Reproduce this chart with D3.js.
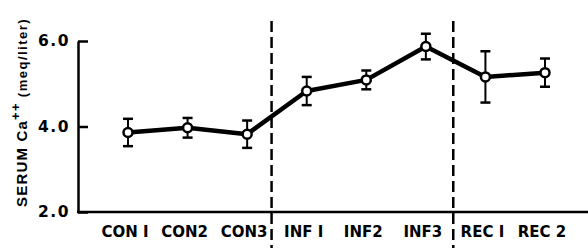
<!DOCTYPE html>
<html>
<head>
    <title>Serum Ca++</title>
    <script src="https://d3js.org/d3.v7.min.js"></script>
    <style>
        body { margin: 0; background: white; }
        text { font-family: "Liberation Sans", Arial, sans-serif; font-weight: bold; fill: black; }
    </style>
</head>
<body>
    <div id="chart"></div>

    <script>
        // data
        const groups = ["CON I", "CON2", "CON3", "INF I", "INF2", "INF3", "REC I", "REC 2"];
        const means  = [3.86, 3.97, 3.82, 4.83, 5.09, 5.87, 5.16, 5.26];
        const errs   = [0.32, 0.23, 0.32, 0.33, 0.22, 0.30, 0.60, 0.33];
        const yTicks = [2.0, 4.0, 6.0];
        // dashed dividers: after group index, fraction of a step
        const dividers = [{after: 2, frac: 0.41}, {after: 5, frac: 0.46}];

        const width = 588;
        const height = 248;
        const axisX = 78;

        const svg = d3.select("#chart")
            .append("svg")
            .attr("width", width)
            .attr("height", height);

        const x = d3.scalePoint()
            .domain(groups)
            .range([128, 545]);

        const y = d3.scaleLinear()
            .domain([2, 6])
            .range([212, 41]);

        const step = x.step();

        // y axis, ticks pointing inward
        const yAxis = svg.append("g")
            .attr("transform", `translate(${axisX},0)`)
            .call(d3.axisLeft(y).tickValues(yTicks).tickFormat(d3.format(".1f"))
                .tickSizeInner(-10).tickSizeOuter(0).tickPadding(8));
        yAxis.selectAll("path, line").attr("stroke", "black").attr("stroke-width", 2.5);
        yAxis.selectAll("text")
            .style("font-family", "'DejaVu Sans', sans-serif")
            .style("font-weight", "bold")
            .attr("font-size", 15.5)
            .attr("letter-spacing", 1.5);

        // x baseline
        svg.append("line")
            .attr("x1", axisX - 1).attr("x2", width)
            .attr("y1", y(2)).attr("y2", y(2))
            .attr("stroke", "black").attr("stroke-width", 2.5);

        // x labels
        svg.selectAll(".xlab")
            .data(groups)
            .enter()
            .append("text")
            .attr("class", "xlab")
            .attr("x", d => x(d) - 3)
            .attr("y", 237)
            .attr("text-anchor", "middle")
            .style("font-family", "'DejaVu Sans', sans-serif")
            .attr("font-size", 15)
            .text(d => d);

        // dashed dividers
        svg.selectAll(".div")
            .data(dividers)
            .enter()
            .append("line")
            .attr("x1", d => x(groups[d.after]) + d.frac * step)
            .attr("x2", d => x(groups[d.after]) + d.frac * step)
            .attr("y1", 21).attr("y2", height)
            .attr("stroke", "black")
            .attr("stroke-width", 2.5)
            .attr("stroke-dasharray", "11,5");

        const pts = groups.map((g, i) => ({g: g, m: means[i], e: errs[i]}));

        // error bars
        const eb = svg.selectAll(".eb")
            .data(pts)
            .enter()
            .append("g")
            .attr("stroke", "black")
            .attr("stroke-width", 2);
        eb.append("line")
            .attr("x1", d => x(d.g)).attr("x2", d => x(d.g))
            .attr("y1", d => y(d.m + d.e)).attr("y2", d => y(d.m - d.e));
        eb.append("line")
            .attr("x1", d => x(d.g) - 5).attr("x2", d => x(d.g) + 5)
            .attr("y1", d => y(d.m + d.e)).attr("y2", d => y(d.m + d.e))
            .attr("stroke-width", 2.5);
        eb.append("line")
            .attr("x1", d => x(d.g) - 5).attr("x2", d => x(d.g) + 5)
            .attr("y1", d => y(d.m - d.e)).attr("y2", d => y(d.m - d.e))
            .attr("stroke-width", 2.5);

        // mean line
        svg.append("path")
            .datum(pts)
            .attr("fill", "none")
            .attr("stroke", "black")
            .attr("stroke-width", 4.5)
            .attr("stroke-linejoin", "round")
            .attr("d", d3.line().x(d => x(d.g)).y(d => y(d.m)));

        // open circles
        svg.selectAll(".pt")
            .data(pts)
            .enter()
            .append("circle")
            .attr("cx", d => x(d.g))
            .attr("cy", d => y(d.m))
            .attr("r", 4.5)
            .attr("fill", "white")
            .attr("stroke", "black")
            .attr("stroke-width", 2.5);

        // y title
        const title = svg.append("text")
            .attr("transform", "translate(27,207) rotate(-90)")
            .attr("text-anchor", "start")
            .attr("font-size", 15)
            .attr("letter-spacing", 1.2);
        title.append("tspan").text("SERUM  Ca");
        title.append("tspan").attr("dy", -7).attr("font-size", 13).text("++");
        title.append("tspan").attr("dy", 7).attr("font-size", 13).attr("letter-spacing", 1.5).text(" (meq/liter)");
    </script>
</body>
</html>
